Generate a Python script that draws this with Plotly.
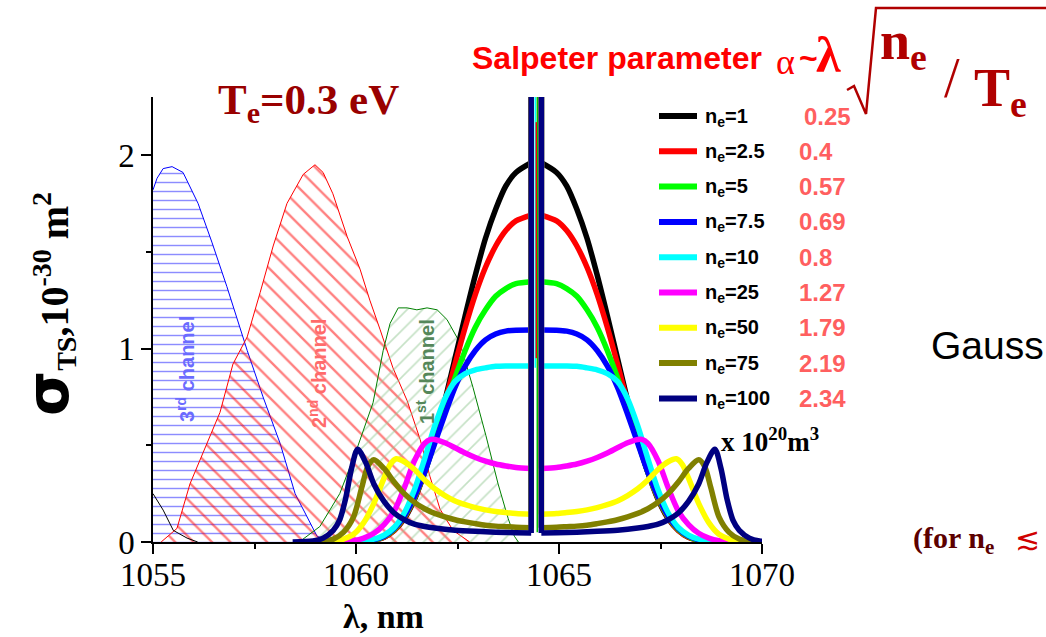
import plotly.graph_objects as go

# ---------------------------------------------------------------- data
LASER_NM = 1064.44      # probing laser line
SPIKE_HALF = 0.125      # half width of the stray-light spike (nm)
SPIKE_TOP = 3.0         # stray-light spike height (off scale)

densities = ['1', '2.5', '5', '7.5', '10', '25', '50', '75', '100']
alphas = ['0.25', '0.4', '0.57', '0.69', '0.8', '1.27', '1.79', '2.19', '2.34']
colors = ['#000000', '#ff0000', '#00ff00', '#0000ff', '#00ffff',
          '#ff00ff', '#ffff00', '#808000', '#000080']

# one-sided TS spectra: offset from the laser line (nm) -> cross-section
off_a = [0.125, 0.5, 0.75, 1.0, 1.25, 1.5, 1.75, 2.0, 2.25, 2.5, 2.75,
         3.0, 3.25, 3.5, 3.75, 4.0, 4.5]
sig_n1 = [1.96, 1.91, 1.84, 1.72, 1.57, 1.38, 1.17, 0.95, 0.73, 0.53, 0.36,
          0.22, 0.12, 0.06, 0.025, 0.01, 0.0]
sig_n2_5 = [1.69, 1.66, 1.61, 1.53, 1.42, 1.28, 1.11, 0.92, 0.72, 0.53, 0.36,
            0.225, 0.125, 0.06, 0.025, 0.01, 0.0]
sig_n5 = [1.345, 1.335, 1.31, 1.27, 1.2, 1.11, 0.99, 0.85, 0.69, 0.52, 0.36,
          0.23, 0.13, 0.065, 0.028, 0.01, 0.0]
sig_n7_5 = [1.096, 1.095, 1.09, 1.075, 1.045, 0.99, 0.91, 0.80, 0.66, 0.51, 0.36,
            0.235, 0.135, 0.07, 0.03, 0.012, 0.0]
sig_n10 = [0.91, 0.91, 0.91, 0.908, 0.9, 0.89, 0.87, 0.83, 0.74, 0.6, 0.43,
           0.27, 0.15, 0.075, 0.035, 0.015, 0.002]

off_n25 = [0.125, 0.5, 0.75, 1.0, 1.25, 1.5, 1.75, 2.0, 2.25, 2.5, 2.6, 2.75,
           3.0, 3.25, 3.5, 3.75, 4.0, 4.25, 4.5, 5.0]
sig_n25 = [0.38, 0.385, 0.393, 0.403, 0.418, 0.437, 0.46, 0.487, 0.513, 0.53,
           0.53, 0.51, 0.42, 0.28, 0.16, 0.09, 0.045, 0.02, 0.007, 0.0]

off_n50 = [0.125, 0.5, 0.75, 1.0, 1.25, 1.5, 1.75, 2.0, 2.25, 2.5, 2.75, 3.0,
           3.25, 3.45, 3.6, 3.75, 4.0, 4.25, 4.5, 4.75, 5.0, 5.5]
sig_n50 = [0.144, 0.147, 0.152, 0.158, 0.166, 0.178, 0.193, 0.212, 0.24, 0.275,
           0.32, 0.375, 0.415, 0.43, 0.40, 0.33, 0.2, 0.1, 0.04, 0.015, 0.004, 0.0]

off_n75 = [0.125, 0.5, 0.75, 1.0, 1.25, 1.5, 1.75, 2.0, 2.25, 2.5, 2.75, 3.0,
           3.25, 3.5, 3.75, 4.0, 4.15, 4.3, 4.5, 4.75, 5.0, 5.25, 5.75]
sig_n75 = [0.074, 0.076, 0.079, 0.082, 0.087, 0.095, 0.104, 0.115, 0.13, 0.148,
           0.172, 0.205, 0.25, 0.31, 0.38, 0.425, 0.39, 0.28, 0.13, 0.05, 0.015,
           0.003, 0.0]

off_n100 = [0.125, 0.5, 1.0, 1.5, 2.0, 2.5, 2.75, 3.0, 3.25, 3.5, 3.75, 4.0,
            4.2, 4.4, 4.55, 4.7, 4.85, 5.0, 5.25, 5.5, 6.0]
sig_n100 = [0.047, 0.048, 0.051, 0.055, 0.061, 0.072, 0.08, 0.092, 0.115, 0.15,
            0.21, 0.3, 0.41, 0.48, 0.38, 0.22, 0.11, 0.06, 0.02, 0.005, 0.0]

spectra = [(off_a, sig_n1), (off_a, sig_n2_5), (off_a, sig_n5), (off_a, sig_n7_5),
           (off_a, sig_n10), (off_n25, sig_n25), (off_n50, sig_n50),
           (off_n75, sig_n75), (off_n100, sig_n100)]

# narrow ion-feature lines inside the spike
ion_offsets = [-0.025, 0.025, 0.0]
ion_bottoms = [0.9, 0.05, 0.95]
ion_tops = [2.4, 2.4, 2.17]
ion_colors = ['#00ffff', '#00c000', '#ff0000']

# polychromator filter channels (scaled transmission)
ch3_nm = [1054.9, 1055.0, 1055.1, 1055.25, 1055.47, 1055.74, 1056.11, 1056.45,
          1056.82, 1057.32, 1057.71, 1058.13, 1058.5, 1058.79, 1059.04, 1059.3, 1059.6]
ch3_tr = [1.80, 1.82, 1.88, 1.93, 1.94, 1.91, 1.75, 1.55, 1.32, 0.99, 0.75, 0.51,
          0.25, 0.13, 0.03, 0.01, 0.0]
ch2_nm = [1055.2, 1055.59, 1055.91, 1056.33, 1056.65, 1056.97, 1057.32, 1057.64,
          1057.96, 1058.3, 1058.7, 1058.99, 1059.19, 1059.43, 1059.78, 1060.1,
          1060.34, 1060.59, 1060.91, 1061.26, 1061.58, 1061.82, 1062.07, 1062.39, 1062.8]
ch2_tr = [0.0, 0.07, 0.30, 0.51, 0.67, 0.92, 1.06, 1.29, 1.53, 1.75, 1.90, 1.95,
          1.91, 1.80, 1.58, 1.41, 1.25, 1.10, 0.90, 0.73, 0.53, 0.34, 0.17, 0.06, 0.0]
ch1_nm = [1058.6, 1059.11, 1059.6, 1060.02, 1060.42, 1060.67, 1060.84, 1061.04,
          1061.26, 1061.5, 1061.75, 1062.0, 1062.24, 1062.56, 1062.88, 1063.2,
          1063.5, 1063.75, 1063.9, 1064.0]
ch1_tr = [0.0, 0.08, 0.25, 0.48, 0.72, 0.99, 1.13, 1.21, 1.21, 1.20, 1.21, 1.20,
          1.15, 1.03, 0.80, 0.55, 0.30, 0.12, 0.03, 0.0]
ch4_nm = [1055.0, 1055.25, 1055.5, 1055.84, 1056.1]
ch4_tr = [0.25, 0.165, 0.06, 0.02, 0.0]

# ---------------------------------------------------------------- layout helpers
W, H = 1046, 637
ML, MR, MT, MB = 153, 284, 97, 95
PW, PH = W - ML - MR, H - MT - MB


def fx(px):
    return (px - ML) / PW


def fy(py):
    return (H - MB - py) / PH


SERIF = 'Liberation Serif'
SANS = 'Liberation Sans'

fig = go.Figure()

# filter channels with hatched fills
for nm, tr, lc, pc, shape, size, sol in [
        (ch3_nm, ch3_tr, '#0000ff', '#1a1aff', '-', 9, 0.16),
        (ch2_nm, ch2_tr, '#ff0000', '#ff0000', '\\', 13, 0.18),
        (ch1_nm, ch1_tr, '#008000', '#8cc48c', '/', 11, 0.15)]:
    fig.add_trace(go.Scatter(
        x=nm, y=tr, mode='lines', line=dict(color=lc, width=1),
        fill='tozeroy', fillcolor='rgba(0,0,0,0)',
        fillpattern=dict(shape=shape, fgcolor=pc, bgcolor='rgba(0,0,0,0)',
                         size=size, solidity=sol),
        showlegend=False, hoverinfo='skip'))
fig.add_trace(go.Scatter(x=ch4_nm, y=ch4_tr, mode='lines',
                         line=dict(color='#000000', width=1),
                         showlegend=False, hoverinfo='skip'))

# TS spectra: both wings mirrored about the laser line, plus the central spike
for (off, sig), col, dens in zip(spectra, colors, densities):
    xs = [LASER_NM - d for d in reversed(off)] + [None] + [LASER_NM + d for d in off]
    ys = list(reversed(sig)) + [None] + list(sig)
    fig.add_trace(go.Scatter(
        x=xs, y=ys, mode='lines', name='n_e=' + dens,
        line=dict(color=col, width=5.5, shape='spline', smoothing=0.8),
        connectgaps=False, showlegend=False))
    fig.add_trace(go.Scatter(
        x=[LASER_NM - SPIKE_HALF, LASER_NM - SPIKE_HALF,
           LASER_NM + SPIKE_HALF, LASER_NM + SPIKE_HALF],
        y=[sig[0], SPIKE_TOP, SPIKE_TOP, sig[0]], mode='lines',
        line=dict(color=col, width=5.5), showlegend=False, hoverinfo='skip'))

for d, b, t, c in zip(ion_offsets, ion_bottoms, ion_tops, ion_colors):
    fig.add_trace(go.Scatter(x=[LASER_NM + d, LASER_NM + d], y=[b, t], mode='lines',
                             line=dict(color=c, width=1.5),
                             showlegend=False, hoverinfo='skip'))

# ---------------------------------------------------------------- annotations
ann = []


def text(px, py, s, size, color='#000000', family=SERIF, xanchor='left',
         angle=0):
    ann.append(dict(x=fx(px), y=fy(py), xref='paper', yref='paper', text=s,
                    showarrow=False, xanchor=xanchor, yanchor='middle',
                    textangle=angle,
                    font=dict(family=family, size=size, color=color)))


text(216, 103, '<b>T<sub>e</sub>=0.3 eV</b>', 43, '#990000')
text(470, 58, '<b>Salpeter parameter</b>', 32, '#ff0000', SANS)
text(774, 62, 'α', 36, '#ff0000')
text(797, 58, '<b>~</b>', 32, '#ff0000', SANS)
text(814, 55, '<b>λ</b>', 50, '#ff0000')
text(878, 44, '<b>n<sub>e</sub></b>', 54, '#b00000')
text(942, 78, '/', 56, '#b00000')
text(972, 92, '<b>T<sub>e</sub></b>', 54, '#b00000')

# legend
row_y = [116 + 35.3 * i for i in range(len(densities))]
shapes = []
for i, (dens, a, col) in enumerate(zip(densities, alphas, colors)):
    shapes.append(dict(type='line', xref='paper', yref='paper',
                       x0=fx(659), x1=fx(697), y0=fy(row_y[i]), y1=fy(row_y[i]),
                       line=dict(color=col, width=6)))
    text(703, row_y[i] + 1, '<b>n<sub>e</sub>=' + dens + '</b>', 20, '#000000', SANS)
    text(802 if i == 0 else 797, row_y[i], '<b>' + a + '</b>', 24, '#ff5f5f', SANS)

# radical sign of the Salpeter parameter
rad = [(847, 90), (854, 86), (866, 114), (876, 8), (1050, 8)]
path = 'M ' + ' L '.join('%.4f,%.4f' % (fx(px), fy(py)) for px, py in rad)
shapes.append(dict(type='path', xref='paper', yref='paper', path=path,
                   line=dict(color='#b00000', width=2.5)))

text(719, 440, '<b>x 10<sup>20</sup>m<sup>3</sup></b>', 27)
text(929, 345, 'Gauss', 39, '#000000', SANS)
text(911, 540, '<b>(for n<sub>e</sub></b>', 30, '#5c0000')
text(1013, 538, '≲', 30, '#d00000', 'DejaVu Serif')

text(185, 369, '<b>3<sup>rd</sup> channel</b>', 20, '#6b6bff', SANS, 'center', -90)
text(318, 374, '<b>2<sup>nd</sup> channel</b>', 20, '#ff6b6b', SANS, 'center', -90)
text(425, 372, '<b>1<sup>st</sup> channel</b>', 20, '#55875a', SANS, 'center', -90)

# axis titles
text(383, 616, '<b>λ, nm</b>', 34, '#000000', SERIF, 'center')
text(48, 304, '<b><span style="font-family:DejaVu Sans;font-size:58px">σ</span>'
     '<sub>TS</sub>,10<sup>-30</sup> m<sup>2</sup></b>', 40, '#000000', SERIF,
     'center', -90)

axis_common = dict(showline=True, linecolor='#000000', linewidth=1.5,
                   ticks='outside', ticklen=10, tickwidth=1.5, tickcolor='#000000',
                   showgrid=False, zeroline=False, mirror=False,
                   tickfont=dict(family=SERIF, size=33, color='#000000'))

fig.update_layout(
    width=W, height=H,
    margin=dict(l=ML, r=MR, t=MT, b=MB),
    paper_bgcolor='#ffffff', plot_bgcolor='#ffffff',
    xaxis=dict(range=[1055, 1070], tickvals=[1055, 1060, 1065, 1070],
               ticklabelstandoff=-7,
               minor=dict(ticks='outside', ticklen=5, tickwidth=1.5,
                          tickcolor='#000000', tickvals=[1057.5, 1062.5, 1067.5]),
               **axis_common),
    yaxis=dict(range=[0, 2.3], tickvals=[0, 1, 2], ticklabelstandoff=0,
               minor=dict(ticks='outside', ticklen=5, tickwidth=1.5,
                          tickcolor='#000000', tickvals=[0.5, 1.5]),
               **axis_common),
    annotations=ann, shapes=shapes, showlegend=False,
)

fig.write_html('out.html')
